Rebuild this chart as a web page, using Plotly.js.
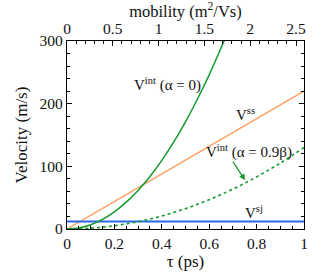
<!DOCTYPE html>
<html><head><meta charset="utf-8">
<script src="https://cdn.plot.ly/plotly-3.0.1.min.js"></script>
</head><body style="margin:0"><div id="chart" style="width:327px;height:274px;"></div>
<script>
// tau values (ps)
var tauSS = [0, 1];
var vSS = [0, 220];
var tauSJ = [0, 1];
var vSJ = [12, 12];
var tauInt0 = [0, 0.05, 0.1, 0.15, 0.2, 0.25, 0.3, 0.35, 0.4, 0.45, 0.5, 0.55, 0.6, 0.65, 0.68];
var vInt0 = [0, 1.7, 6.8, 15.4, 27.4, 42.8, 61.6, 83.8, 109.4, 138.5, 171, 207, 246, 289, 316];
var tauInt09 = [0, 0.1, 0.2, 0.3, 0.4, 0.5, 0.6, 0.7, 0.8, 0.9, 1.0];
var vInt09 = [0, 1.3, 5.2, 11.7, 20.8, 32.5, 46.8, 63.7, 83.2, 105.3, 130];
var mobilityMax = 2.587;
var labels = ["V<sup>int</sup> (α = 0)", "V<sup>ss</sup>", "V<sup>int</sup> (α = 0.9β)", "V<sup>sj</sup>"];

function F(s) { return {family: "Liberation Serif", size: s, color: "#111"}; }
function minor(d) { return {dtick: d, ticklen: 3, ticks: "inside", tickcolor: "#000"}; }
function ax(extra) {
  var o = {showline: true, linecolor: "#000", linewidth: 1.2, ticks: "inside", ticklen: 5, tickcolor: "#000",
           zeroline: false, showgrid: false, tickfont: F(15.5)};
  for (var k in extra) o[k] = extra[k];
  return o;
}
var traces = [
  {x: tauSS, y: vSS, mode: "lines", line: {color: "#ffa064", width: 1.5}},
  {x: tauSJ, y: vSJ, mode: "lines", line: {color: "#2a66e8", width: 1.8}},
  {x: tauInt0, y: vInt0, mode: "lines", line: {color: "#139a2a", width: 1.5, shape: "spline"}},
  {x: tauInt09, y: vInt09, mode: "lines", line: {color: "#139a2a", width: 1.6, dash: "3px,3px", shape: "spline"}},
  // invisible traces to activate the secondary (top / right) axes
  {x: [0, mobilityMax], y: [0, 0], xaxis: "x2", yaxis: "y", mode: "lines", line: {width: 0}, hoverinfo: "skip", opacity: 0},
  {x: [0, 1], y: [0, 0], xaxis: "x", yaxis: "y2", mode: "lines", line: {width: 0}, hoverinfo: "skip", opacity: 0}
];
var layout = {
  width: 327, height: 274, showlegend: false,
  margin: {l: 67, r: 23, t: 41, b: 45},
  paper_bgcolor: "#fff", plot_bgcolor: "#fff",
  font: F(15),
  xaxis: ax({range: [0, 1], dtick: 0.2, minor: minor(0.05),
    title: {text: "τ (ps)", font: F(17), standoff: 3}, tickformat: "~g"}),
  xaxis2: ax({overlaying: "x", side: "top", range: [0, mobilityMax], dtick: 0.5, anchor: "y", minor: minor(0.1),
    title: {text: "mobility (m<sup>2</sup>/Vs)", font: F(16.5), standoff: 4}, tickformat: "~g"}),
  yaxis: ax({range: [0, 300], dtick: 100, minor: minor(20),
    title: {text: "Velocity (m/s)", font: F(17), standoff: 7}}),
  yaxis2: ax({overlaying: "y", side: "right", range: [0, 300], dtick: 100, showticklabels: false, anchor: "x", minor: minor(20)}),
  annotations: [
    {x: 0.426, y: 230, text: labels[0], showarrow: false, font: F(15)},
    {x: 0.755, y: 183, text: labels[1], showarrow: false, font: F(15)},
    {x: 0.77, y: 123, text: labels[2], showarrow: false, font: F(15)},
    {x: 0.79, y: 27, text: labels[3], showarrow: false, font: F(15)},
    {x: 0.751, y: 78, text: "", showarrow: true, arrowhead: 2, arrowsize: 1, arrowwidth: 1.2, arrowcolor: "#139a2a", ax: -13, ay: -20}
  ]
};
Plotly.newPlot("chart", traces, layout, {displayModeBar: false});
</script></body></html>
